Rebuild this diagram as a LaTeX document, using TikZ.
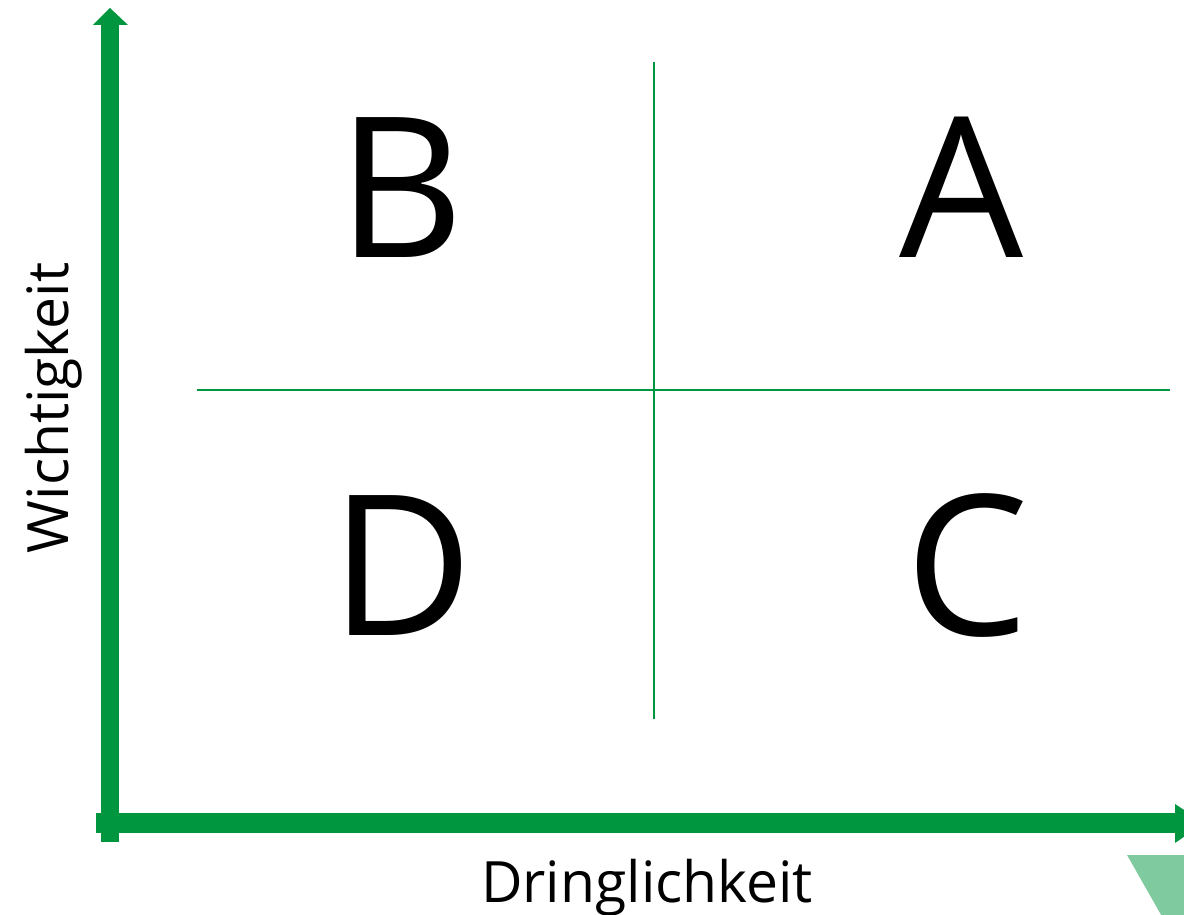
\documentclass[tikz,border=0pt]{standalone}
\usepackage{fontspec}
\setmainfont{Open Sans}
\definecolor{dgreen}{RGB}{0,150,64}
\definecolor{lgreen}{RGB}{128,202,159}
\begin{document}
\begin{tikzpicture}[x=1pt,y=-1pt,
  quad/.style={font=\fontsize{196}{196}\selectfont, inner sep=0pt, anchor=base},
  axislabel/.style={font=\fontsize{57}{57}\selectfont, inner sep=0pt, anchor=base},
  gridline/.style={draw=dgreen, line width=1.6pt},
  axisfill/.style={fill=dgreen, draw=none}]
\useasboundingbox (0,0) rectangle (1184,915);
\clip (0,0) rectangle (1184,915);
% coordinates
\coordinate (vtop) at (110,8);
\coordinate (origin) at (110,823);
\coordinate (hright) at (1204,823);
\coordinate (gl) at (197,390);
\coordinate (gr) at (1170,390);
\coordinate (gt) at (654,62);
\coordinate (gb) at (654,719);
% grid lines
\draw[gridline] (gl) -- (gr);
\draw[gridline] (gt) -- (gb);
% vertical axis
\fill[axisfill] (101,842) rectangle (119,24);
\fill[axisfill] (93,25) -- (128,25) -- (vtop) -- cycle;
% horizontal axis
\fill[axisfill] (96,813) rectangle (1176,833);
\fill[axisfill] (1175,804) -- (1175,843) -- (hright) -- cycle;
% decorative light shape
\fill[lgreen] (1127,855) -- (1190,855) -- (1190,920) -- (1164,920) -- cycle;
% quadrant letters
\node[quad] (B) at (401,257) {B};
\node[quad] (A) at (962,257) {A};
\node[quad] (D) at (402,635) {D};
\node[quad] (C) at (967,635) {C};
% axis labels
\node[axislabel] (xlab) at (647,902) {Dringlichkeit};
\node[axislabel, rotate=90] (ylab) at (68,408) {Wichtigkeit};
\end{tikzpicture}
\end{document}
